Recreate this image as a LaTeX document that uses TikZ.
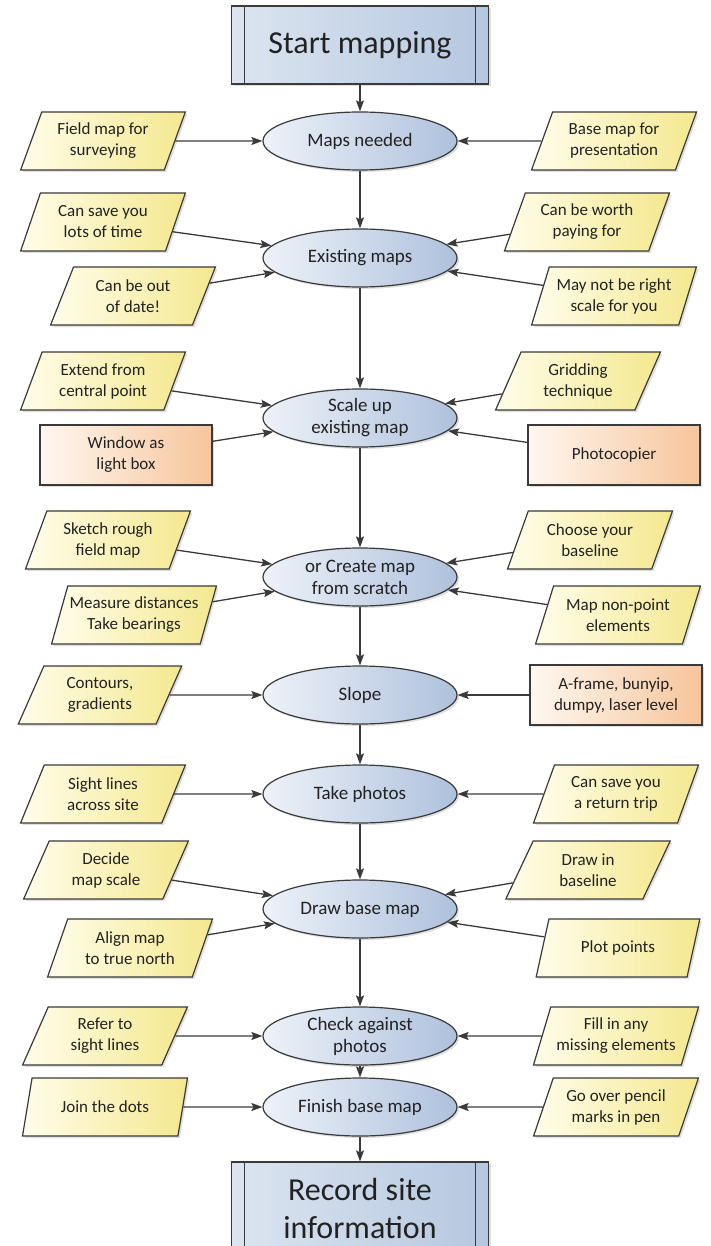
\documentclass[tikz,border=0pt]{standalone}
\usepackage{fontspec}
\setmainfont{Carlito}
\usetikzlibrary{shapes.geometric,shadows,arrows.meta}

\definecolor{stageL}{HTML}{EEF2F9}
\definecolor{stageR}{HTML}{AEC1DC}
\definecolor{noteL}{HTML}{FFFDEA}
\definecolor{noteR}{HTML}{F4E88F}
\definecolor{toolL}{HTML}{FFF7F0}
\definecolor{toolR}{HTML}{F6C59B}
\definecolor{termL}{HTML}{DCE5F1}
\definecolor{termR}{HTML}{B5C7DF}
\definecolor{lineC}{HTML}{3A3A3A}
\definecolor{textC}{HTML}{222222}

\tikzset{
  soft shadow/.style={drop shadow={opacity=0.25, shadow xshift=2pt, shadow yshift=-2pt}},
  stage/.style={ellipse, draw=lineC, line width=1.2pt, left color=stageL, right color=stageR,
    minimum width=194pt, minimum height=58pt, inner sep=1pt, align=center, text=textC,
    font=\fontsize{19}{22}\selectfont, soft shadow},
  note/.style={trapezium, trapezium left angle=67, trapezium right angle=113, trapezium stretches=true,
    draw=lineC, line width=1.2pt, left color=noteL, right color=noteR,
    minimum width=165pt, minimum height=58pt, inner sep=1pt, align=center, text=textC,
    font=\fontsize{17}{21}\selectfont, soft shadow},
  tool/.style={rectangle, draw=lineC, line width=1.2pt, left color=toolL, right color=toolR,
    minimum width=172pt, minimum height=60pt, inner sep=1pt, align=center, text=textC,
    font=\fontsize{17}{21}\selectfont, soft shadow},
  terminal/.style={rectangle, draw=lineC, line width=1.2pt, left color=termL, right color=termR,
    minimum width=257pt, minimum height=78pt, align=center, text=textC,
    font=\fontsize{32}{38}\selectfont, soft shadow,
    path picture={
      \draw[lineC, line width=1.2pt] ([xshift=13pt]path picture bounding box.north west) -- ([xshift=13pt]path picture bounding box.south west);
      \draw[lineC, line width=1.2pt] ([xshift=-13pt]path picture bounding box.north east) -- ([xshift=-13pt]path picture bounding box.south east);
    }},
  link/.style={draw=lineC, line width=1.3pt, -{Stealth[length=11pt, width=8pt, inset=2pt]}},
}

\begin{document}
\begin{tikzpicture}[x=1pt, y=-1pt]

\useasboundingbox (0,0) rectangle (710,1246);
\clip (0,0) rectangle (710,1246);

% main column
\node[terminal] (start) at (360,45) {Start mapping};
\node[stage] (needed) at (360,141) {Maps needed};
\node[stage] (existing) at (360,258) {Existing maps};
\node[stage] (scaleup) at (360,418) {Scale up\\existing map};
\node[stage] (create) at (360,577) {or Create map\\from scratch};
\node[stage] (slope) at (360,695) {Slope};
\node[stage] (photos) at (360,794) {Take photos};
\node[stage] (basemap) at (360,909) {Draw base map};
\node[stage] (check) at (360,1036) {Check against\\photos};
\node[stage] (finish) at (360,1107) {Finish base map};
\node[terminal, minimum height=92pt] (record) at (360,1208) {Record site\\information};

% left side
\node[note] (fieldmap) at (103,141) {Field map for\\surveying};
\node[note] (savetime) at (103,222) {Can save you\\lots of time};
\node[note] (outofdate) at (133,296) {Can be out\\of date!};
\node[note] (extend) at (103,381) {Extend from\\central point};
\node[tool] (window) at (126,455) {Window as\\light box};
\node[note] (sketch) at (108,540) {Sketch rough\\field map};
\node[note] (measure) at (134,615) {Measure distances\\Take bearings};
\node[note] (contours) at (100,695) {Contours,\\gradients};
\node[note] (sightlines) at (103,794) {Sight lines\\across site};
\node[note] (decide) at (106,870) {Decide\\map scale};
\node[note] (align) at (130,948) {Align map\\to true north};
\node[note] (refer) at (105,1036) {Refer to\\sight lines};
\node[note] (join) at (105,1107) {Join the dots};

% right side
\node[note] (presentation) at (614,141) {Base map for\\presentation};
\node[note] (worth) at (587,222) {Can be worth\\paying for};
\node[note] (notscale) at (614,296) {May not be right\\scale for you};
\node[note] (gridding) at (578,381) {Gridding\\technique};
\node[tool] (photocopier) at (614,455) {Photocopier};
\node[note] (baseline) at (590,540) {Choose your\\baseline};
\node[note] (nonpoint) at (618,615) {Map non-point\\elements};
\node[tool] (aframe) at (616,695) {A-frame, bunyip,\\dumpy, laser level};
\node[note] (returntrip) at (616,794) {Can save you\\a return trip};
\node[note] (drawin) at (588,870) {Draw in\\baseline};
\node[note] (plot) at (618,948) {Plot points};
\node[note] (fillin) at (616,1036) {Fill in any\\missing elements};
\node[note] (goover) at (616,1107) {Go over pencil\\marks in pen};

% down the column
\draw[link] (start) -- (needed);
\draw[link] (needed) -- (existing);
\draw[link] (existing) -- (scaleup);
\draw[link] (scaleup) -- (create);
\draw[link] (create) -- (slope);
\draw[link] (slope) -- (photos);
\draw[link] (photos) -- (basemap);
\draw[link] (basemap) -- (check);
\draw[link] (check) -- (finish);
\draw[link] (finish) -- (record);

% into the column
\foreach \side/\stagename in {fieldmap/needed, presentation/needed,
    savetime/existing, outofdate/existing, worth/existing, notscale/existing,
    extend/scaleup, window/scaleup, gridding/scaleup, photocopier/scaleup,
    sketch/create, measure/create, baseline/create, nonpoint/create,
    contours/slope, aframe/slope, sightlines/photos, returntrip/photos,
    decide/basemap, align/basemap, drawin/basemap, plot/basemap,
    refer/check, fillin/check, join/finish, goover/finish}
  \draw[link] (\side) -- (\stagename);

\end{tikzpicture}
\end{document}
